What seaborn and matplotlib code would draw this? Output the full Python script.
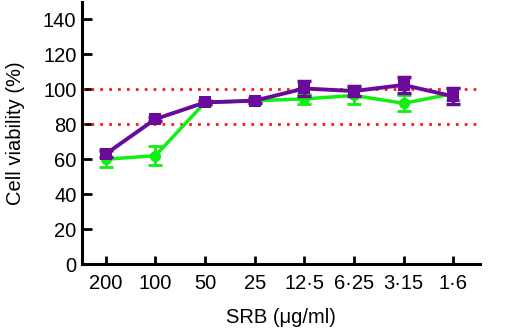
import numpy as np
import pandas as pd
import matplotlib
matplotlib.use("Agg")
import matplotlib.pyplot as plt
import seaborn as sns

# data
doses = ["200", "100", "50", "25", "12·5", "6·25", "3·15", "1·6"]
green_mean = [60, 62, 92.5, 93.5, 94.5, 96.5, 92, 97.5]
green_err = [4.5, 5.5, 1.5, 1.5, 3, 5, 4.5, 3.5]
purple_mean = [63, 83, 92.5, 93.5, 100.5, 99, 102.5, 96]
purple_err = [2, 1, 1, 1.5, 4.5, 3, 4.5, 4.5]
ref_lines = [100, 80]

sns.set_theme(style="ticks")
plt.rcParams["font.family"] = ["Liberation Sans", "DejaVu Sans"]
plt.rcParams["text.color"] = "black"
plt.rcParams["axes.labelcolor"] = "black"

x = np.arange(len(doses))
df = pd.DataFrame({
    "pos": np.concatenate([x, x]),
    "viab": green_mean + purple_mean,
    "grp": ["g"] * len(doses) + ["p"] * len(doses),
})

fig = plt.figure(figsize=(5.09, 3.28), dpi=100)
ax = fig.add_axes([0.161, 0.195, 0.782, 0.799])

for v in ref_lines:
    ax.axhline(v, color="#ff1a1a", lw=2, ls=(0, (1, 2.2)), zorder=1)

green = "#11ee11"
purple = "#6a0a9a"

ax.errorbar(x, green_mean, yerr=green_err, fmt="none", ecolor=green,
            elinewidth=2, capsize=5, capthick=2, zorder=2)
sns.lineplot(data=df[df.grp == "g"], x="pos", y="viab", color=green, lw=2.5,
             marker="o", markersize=8, markeredgewidth=0, ax=ax, zorder=3)
ax.errorbar(x, purple_mean, yerr=purple_err, fmt="none", ecolor=purple,
            elinewidth=2.5, capsize=5, capthick=2.5, zorder=4)
sns.lineplot(data=df[df.grp == "p"], x="pos", y="viab", color=purple, lw=2.8,
             marker="s", markersize=9, markeredgewidth=0, ax=ax, zorder=5)

ax.set_xlim(-0.48, 7.54)
ax.set_ylim(0, 150)
ax.set_yticks(np.arange(0, 141, 20))
ax.set_xticks(x)
ax.set_xticklabels(doses)
ax.tick_params(axis="both", direction="in", length=7, width=2,
               labelsize=14.5, colors="black", pad=4)
ax.tick_params(axis="x", length=6, pad=7)
for s in ["left", "bottom"]:
    ax.spines[s].set_linewidth(2.2)
    ax.spines[s].set_color("black")
sns.despine(ax=ax)

ax.set_xlabel("SRB (\u03bcg/ml)", fontsize=14.5, labelpad=11)
ax.set_ylabel("Cell viability (%)", fontsize=14.5, labelpad=13)

fig.savefig("out.png", dpi=100)
